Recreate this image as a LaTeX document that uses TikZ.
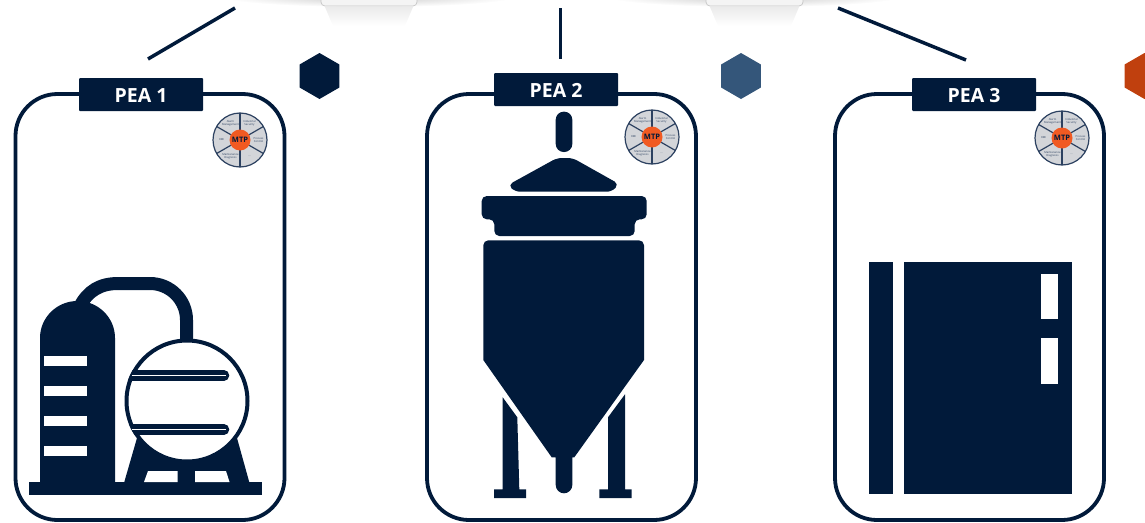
\documentclass[tikz,border=0pt]{standalone}
\usepackage{fontspec}
\setmainfont{Open Sans}
\usetikzlibrary{shapes.geometric}
\definecolor{peanavy}{HTML}{011A3A}
\definecolor{peablue}{HTML}{34567A}
\definecolor{peaorange}{HTML}{C0400E}
\definecolor{mtporange}{HTML}{F15A22}
\definecolor{mtpgray}{HTML}{D3D5D9}
\definecolor{mtpedge}{HTML}{2C4160}
\tikzset{
  peaframe/.style={draw=peanavy, line width=3.8pt, rounded corners=42pt, minimum width=269pt, minimum height=426pt, inner sep=0pt},
  pealabel/.style={fill=peanavy, rounded corners=1pt, minimum width=124pt, minimum height=33pt, inner sep=0pt, text=white, text height=15pt, text depth=0pt, font=\fontsize{19.5}{21}\selectfont\bfseries},
  peahex/.style={regular polygon, regular polygon sides=6, shape border rotate=30, minimum size=46pt, inner sep=0pt},
  busline/.style={draw=peanavy, line width=3.5pt},
  solid navy/.style={fill=peanavy, draw=none},
  slot/.style={fill=white, draw=none},
  topglow/.style={inner color=gray!42, outer color=white},
  wheeltext/.style={font=\fontsize{2.7}{3}\selectfont, align=center, text=mtpedge, inner sep=0pt},
  topbox/.style={fill=gray!9, draw=gray!45, line width=0.7pt, rounded corners=4pt},
  mtpwheel/.pic={
    \draw[fill=mtpgray, draw=mtpedge, line width=1.2pt] (0,0) circle (27);
    \foreach \ang in {90,30,-30,-90,210,150}
      \draw[mtpedge, line width=1.2pt] (0,0) -- (\ang:27);
    \node[wheeltext] (-alarm) at (-120:19) {Alarm\\Management};
    \node[wheeltext] (-security) at (-60:19) {Industrial\\Security};
    \node[wheeltext] (-process) at (0:18.5) {Process\\Control};
    \node[wheeltext] (-dots) at (60:19) {...};
    \node[wheeltext] (-maint) at (120:19) {Maintenance\\Diagnosis};
    \node[wheeltext] (-hmi) at (180:18.5) {HMI};
    \node[circle, fill=mtporange, minimum size=21pt, inner sep=0pt, text=peanavy, font=\fontsize{7.5}{8}\selectfont\bfseries] (-hub) at (0,0) {MTP};
  },
}
\begin{document}
\begin{tikzpicture}[x=1pt,y=-1pt]
  \useasboundingbox (0,0) rectangle (1145,522);

  % shadows and boxes at the top edge
  \shade[topglow] (369,-3) ellipse (145 and 10);
  \shade[topglow] (754,-3) ellipse (145 and 10);
  \shade[top color=gray!16, bottom color=white] (325,7) -- (413,7) -- (405,26) -- (333,26) -- cycle;
  \shade[top color=gray!16, bottom color=white] (710,7) -- (799,7) -- (791,26) -- (718,26) -- cycle;
  \draw[topbox] (321,-8) rectangle (417,6);
  \draw[topbox] (706,-8) rectangle (803,6);

  % frames and labels
  \node[peaframe] (frame1) at (150,307) {};
  \node[peaframe] (frame2) at (561.5,307) {};
  \node[peaframe] (frame3) at (969.5,307) {};
  \node[pealabel] (pea1) at (141,94.5) {PEA 1};
  \node[pealabel] (pea2) at (556,89.5) {PEA 2};
  \node[pealabel] (pea3) at (974,94.5) {PEA 3};

  \node[peahex, fill=peanavy] (hex1) at (319.5,76) {};
  \node[peahex, fill=peablue] (hex2) at (741,76) {};
  \node[peahex, fill=peaorange] (hex3) at (1144.5,76) {};

  \coordinate (bus1) at (235,8);
  \coordinate (bus2) at (560.5,8);
  \coordinate (bus3) at (838,8);
  \coordinate (drop1) at (148,59);
  \coordinate (drop2) at (560.5,59);
  \coordinate (drop3) at (966,60);
  \draw[busline] (bus1) -- (drop1);
  \draw[busline] (bus2) -- (drop2);
  \draw[busline] (bus3) -- (drop3);

  \pic (wheel1) at (240,140) {mtpwheel};
  \pic (wheel2) at (652,137) {mtpwheel};
  \pic (wheel3) at (1062,138) {mtpwheel};

  % plant 1
  \fill[solid navy] (29,482) rectangle (262,495);
  \fill[solid navy] (40,482) -- (40,338) arc[start angle=180, end angle=360, x radius=37.5, y radius=37] -- (115,482) -- cycle;
  \foreach \ytop in {356,385.5,416,446}
    \fill[slot] (44,\ytop) rectangle (87,\ytop+10.3);
  \draw[peanavy, line width=13pt] (80,306) .. controls (88,291) and (100,283.5) .. (118,283.5) -- (150,283.5) arc[start angle=-90, end angle=0, radius=36.5] -- (186.5,346);
  \fill[solid navy] (124,483) -- (137,438) -- (237,438) -- (249.5,483) -- cycle;
  \fill[slot] (148,471) -- (177.5,471) -- (177.5,482) -- (144,482) -- cycle;
  \fill[slot] (195,471) -- (226,471) -- (229.5,482) -- (195,482) -- cycle;
  \draw[fill=white, draw=peanavy, line width=4pt] (187,401) circle (60.5);
  \begin{scope}
    \clip (187,401) circle (62.5);
    \draw[peanavy, line width=10.5pt, line cap=round] (120,375.5) -- (224,375.5);
    \draw[peanavy, line width=10.5pt, line cap=round] (120,429.5) -- (224,429.5);
  \end{scope}
  \draw[white, line width=1.3pt] (131.5,375.5) -- (226,375.5);
  \draw[white, line width=1.3pt] (131.5,429.5) -- (226,429.5);

  % plant 2
  \fill[solid navy, rounded corners=8pt] (555.7,111.7) rectangle (572.3,152);
  \fill[solid navy, rounded corners=5pt] (557,158) -- (572.7,158) -- (619,184) -- (612,191.7) -- (515,191.7) -- (508,185) -- cycle;
  \fill[solid navy, rounded corners=5pt] (481.7,196) -- (646.7,196) -- (646.7,219.3) -- (634.7,219.3) -- (634.7,236) -- (494.3,236) -- (494.3,219.3) -- (481.7,219.3) -- cycle;
  \fill[solid navy] (483.3,360) [rounded corners=5pt] -- (483.3,240.3) -- (644,240.3) [sharp corners] -- (644,360) -- (574.3,457.3) -- (572.3,457.3) -- (572.3,485) arc[start angle=0, end angle=180, radius=8.3] -- (555.7,457.3) -- (551.7,457.3) -- cycle;
  \fill[solid navy] (502.7,397.3) -- (517.3,417.3) -- (519.3,489.3) -- (526,489.3) -- (526,498) -- (494,498) -- (494,489.3) -- (502.7,489.3) -- cycle;
  \fill[solid navy] (625,394.3) -- (608,417.3) -- (608,489.3) -- (599.3,489.3) -- (599.3,498) -- (631.7,498) -- (631.7,489.3) -- (625,489.3) -- cycle;

  % plant 3
  \fill[solid navy] (869,262) rectangle (893,494);
  \fill[solid navy] (904,262) rectangle (1072,494);
  \fill[slot] (1041,274) rectangle (1058,319);
  \fill[slot] (1041,338) rectangle (1058,384);
\end{tikzpicture}
\end{document}
